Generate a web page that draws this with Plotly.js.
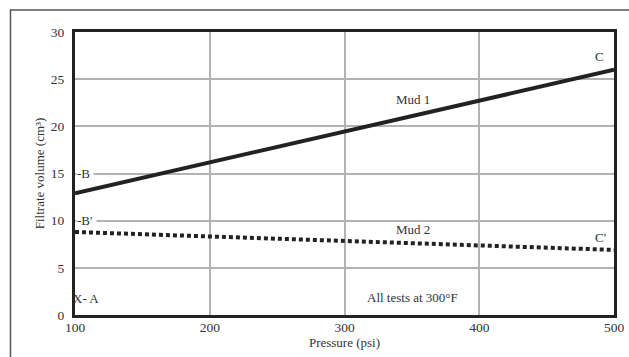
<!DOCTYPE html>
<html><head><meta charset="utf-8">
<script src="https://cdn.plot.ly/plotly-3.0.1.min.js"></script>
<style>html,body{margin:0;padding:0;background:#fff}</style>
</head><body>
<div id="chart" style="width:629px;height:357px"></div>
<script>
var pressure = [100, 500];
var mud1 = [12.9, 26.0];
var mud2 = [8.8, 6.9];
var xTicks = [100, 200, 300, 400, 500];
var yTicks = [0, 5, 10, 15, 20, 25, 30];

var font = {family: 'Liberation Serif, serif', size: 13, color: '#333'};
var tickFont = {family: 'Liberation Serif, serif', size: 13.5, color: '#333'};

var data = [
  {x: pressure, y: mud1, mode: 'lines', line: {color: '#222', width: 4}, hoverinfo: 'skip', name: 'Mud 1'},
  {x: pressure, y: mud2, mode: 'lines', line: {color: '#222', width: 4, dash: '4px,3px'}, hoverinfo: 'skip', name: 'Mud 2'}
];

function ann(x, y, text, opts) {
  var a = {x: x, y: y, xref: 'x', yref: 'y', text: text, showarrow: false, font: font};
  for (var k in opts) a[k] = opts[k];
  return a;
}

var layout = {
  width: 629, height: 357,
  margin: {l: 75, r: 15, t: 32, b: 42},
  paper_bgcolor: '#fff', plot_bgcolor: '#fff',
  showlegend: false,
  font: font,
  xaxis: {
    range: [100, 500], tickvals: xTicks, ticktext: xTicks.map(String),
    showgrid: true, gridcolor: '#b3b3b3', gridwidth: 2,
    zeroline: false, showline: true, linecolor: '#222', linewidth: 3, mirror: true,
    ticks: '', ticklen: 0, tickfont: tickFont, ticklabelstandoff: -2,
    title: {text: 'Pressure (psi)', font: font, standoff: 2}
  },
  yaxis: {
    range: [0, 30], tickvals: yTicks, ticktext: yTicks.map(String),
    showgrid: true, gridcolor: '#b3b3b3', gridwidth: 2,
    zeroline: false, showline: true, linecolor: '#222', linewidth: 3, mirror: true,
    ticks: '', tickfont: tickFont, ticklabelstandoff: 5,
    title: {text: 'Filtrate volume (cm³)', font: font, standoff: 4}
  },
  annotations: [
    ann(500, 27.4, 'C', {xanchor: 'right', xshift: -8}),
    ann(300, 22.8, 'Mud 1', {xanchor: 'center', xshift: 68}),
    ann(100, 15, '-B ', {xanchor: 'left', xshift: 1, bgcolor: '#fff', borderpad: 0}),
    ann(100, 10, '-B\' ', {xanchor: 'left', xshift: 1, bgcolor: '#fff', borderpad: 0}),
    ann(300, 9.1, 'Mud 2', {xanchor: 'center', xshift: 68}),
    ann(500, 8.2, 'C\'', {xanchor: 'right', xshift: -6}),
    ann(100, 1.8, 'X- A', {xanchor: 'left', xshift: -4}),
    ann(300, 1.9, 'All tests at 300°F', {xanchor: 'center', xshift: 68})
  ],
  shapes: [
    {type: 'path', xref: 'paper', yref: 'paper',
     path: 'M -0.1197 -0.2 L -0.1197 1.0777 L 1.05 1.0777',
     line: {color: '#555', width: 1.5}}
  ]
};

Plotly.newPlot('chart', data, layout, {displayModeBar: false, staticPlot: true});
</script>
</body></html>
